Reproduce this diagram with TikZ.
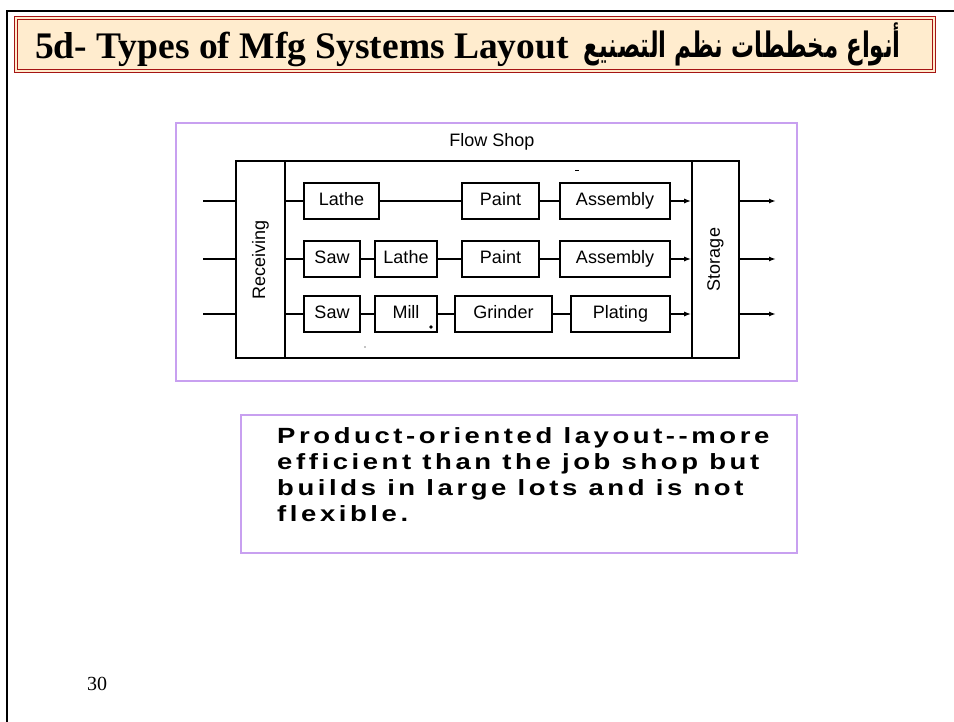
\documentclass[tikz,border=0pt]{standalone}
\usepackage{fontspec}
\setmainfont{Liberation Serif}
\setsansfont{Liberation Sans}
\newfontfamily\arabicfont[Script=Arabic]{DejaVu Sans}
\TeXXeTstate=1
\usetikzlibrary{arrows.meta}
\definecolor{slidered}{RGB}{165,20,20}
\definecolor{titlebg}{RGB}{255,236,206}
\definecolor{lav}{RGB}{200,160,240}
\begin{document}
\begin{tikzpicture}[x=1pt,y=-1pt,
  mbox/.style={draw=black, line width=1.6pt, minimum height=36pt, inner sep=0pt,
    text height=13pt, text depth=4pt,
    font=\sffamily\fontsize{18}{20}\selectfont},
  bar/.style={draw=black, line width=1.6pt, minimum height=197pt, inner sep=0pt},
  conn/.style={line width=1.5pt},
  arr/.style={line width=1.5pt, -{Latex[length=7pt,width=5pt]}},
  panel/.style={draw=lav, line width=2.5pt, fill=white}]
\useasboundingbox (0,0) rectangle (954,722);
% slide frame
\draw[line width=2.5pt] (6,11) -- (954,11);
\draw[line width=2.5pt] (7,11) -- (7,722);
% title box
\node[draw=slidered, fill=titlebg, line width=1pt, minimum width=921pt, minimum height=56pt, inner sep=0pt] (tbox) at (474.5,45) {};
\node[draw=slidered, line width=1pt, minimum width=915pt, minimum height=50pt, inner sep=0pt] (tboxin) at (474.5,45) {};
\node[anchor=base west, inner sep=0pt, font=\fontsize{37.5}{40}\selectfont\bfseries] (t1) at (35,59) {5d- Types of Mfg Systems Layout};
\node[anchor=base east, inner sep=0pt, font=\arabicfont\bfseries\fontsize{35}{38}\selectfont] (t2) at (901,58) {\scalebox{0.655}[1]{\beginR أنواع مخططات نظم التصنيع\endR}};
% panels
\node[panel, minimum width=621pt, minimum height=258pt, inner sep=0pt] (p1) at (486.5,252) {};
\node[panel, minimum width=556pt, minimum height=138pt, inner sep=0pt] (p2) at (519,484) {};
% flow shop diagram
\node[font=\sffamily\fontsize{18}{20}\selectfont, inner sep=0pt] (fs) at (492,142) {Flow Shop};
\node[bar, minimum width=503pt] (frame) at (487.5,259.5) {};
\node[bar, minimum width=49pt] (recv) at (260.5,259.5) {};
\node[bar, minimum width=47pt] (stor) at (715.5,259.5) {};
\node[rotate=90, font=\sffamily\fontsize{18}{20}\selectfont, inner sep=0pt] (recvl) at (recv.center) {Receiving};
\node[rotate=90, font=\sffamily\fontsize{18}{20}\selectfont, inner sep=0pt] (storl) at (stor.center) {Storage};
% row 1
\node[mbox, minimum width=75pt] (a1) at (341.5,201) {Lathe};
\node[mbox, minimum width=77pt] (a2) at (500.5,201) {Paint};
\node[mbox, minimum width=110pt] (a3) at (615,201) {Assembly};
% row 2
\node[mbox, minimum width=56pt] (b1) at (332,259) {Saw};
\node[mbox, minimum width=62pt] (b2) at (406,259) {Lathe};
\node[mbox, minimum width=77pt] (b3) at (500.5,259) {Paint};
\node[mbox, minimum width=110pt] (b4) at (615,259) {Assembly};
% row 3
\node[mbox, minimum width=56pt] (c1) at (332,314) {Saw};
\node[mbox, minimum width=62pt] (c2) at (406,314) {Mill};
\node[mbox, minimum width=97pt] (c3) at (503.5,314) {Grinder};
\node[mbox, minimum width=99pt] (c4) at (620.5,314) {Plating};
% inputs / outputs
\coordinate (i1) at (203,201);
\coordinate (i2) at (203,259);
\coordinate (i3) at (203,314);
\coordinate (o1) at (776,201);
\coordinate (o2) at (776,259);
\coordinate (o3) at (776,314);
\draw[conn] (i1) -- (recv.west |- i1);
\draw[conn] (i2) -- (recv.west |- i2);
\draw[conn] (i3) -- (recv.west |- i3);
\draw[conn] (recv.east |- a1) -- (a1);
\draw[conn] (recv.east |- b1) -- (b1);
\draw[conn] (recv.east |- c1) -- (c1);
\draw[conn] (a1) -- (a2);
\draw[conn] (a2) -- (a3);
\draw[conn] (b1) -- (b2);
\draw[conn] (b2) -- (b3);
\draw[conn] (b3) -- (b4);
\draw[conn] (c1) -- (c2);
\draw[conn] (c2) -- (c3);
\draw[conn] (c3) -- (c4);
\draw[arr] (a3) -- (stor.west |- a3);
\draw[arr] (b4) -- (stor.west |- b4);
\draw[arr] (c4) -- (stor.west |- c4);
\draw[arr] (stor.east |- o1) -- (o1);
\draw[arr] (stor.east |- o2) -- (o2);
\draw[arr] (stor.east |- o3) -- (o3);
% scan marks
\fill (431,327) circle (1.8pt);
\draw[line width=0.8pt] (575,170) -- (579,170);
\fill (365,347) circle (0.6pt);
% description
\node[anchor=base west, inner sep=0pt,
  font=\sffamily\bfseries\fontsize{22}{26}\selectfont\addfontfeatures{LetterSpace=13}] (desc) at (277,443)
  {\scalebox{1.25}[1]{\begin{tabular}[t]{@{}l@{}}Product-oriented layout-{}-more\\efficient than the job shop but\\builds in large lots and is not\\flexible.\end{tabular}}};
% page number
\node[anchor=base, inner sep=0pt, font=\fontsize{20}{22}\selectfont] (pn) at (97,690) {30};
\end{tikzpicture}
\end{document}
